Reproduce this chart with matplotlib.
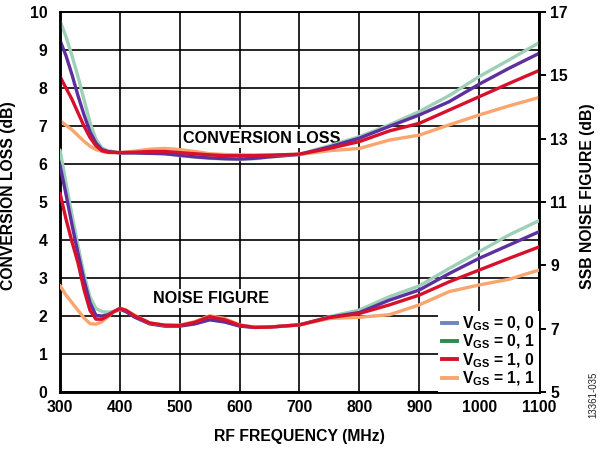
import matplotlib
matplotlib.use("Agg")
import matplotlib.pyplot as plt
from matplotlib.lines import Line2D

plt.rcParams['font.family'] = ['Liberation Sans', 'DejaVu Sans']
plt.rcParams['font.weight'] = 'bold'
plt.rcParams['mathtext.fontset'] = 'custom'
plt.rcParams['mathtext.rm'] = 'Liberation Sans:bold'
plt.rcParams['mathtext.bf'] = 'Liberation Sans:bold'

# ---- data ----
freq_cl = [300, 310, 320, 330, 340, 350, 360, 370, 380, 400, 425, 450, 475, 500,
           525, 550, 575, 600, 625, 650, 700, 750, 800, 850, 900, 950, 1000, 1050, 1100]
cl_00 = [9.25, 8.85, 8.35, 7.80, 7.30, 6.85, 6.55, 6.38, 6.33, 6.29, 6.29, 6.28, 6.27, 6.23,
         6.19, 6.16, 6.14, 6.13, 6.15, 6.19, 6.25, 6.45, 6.68, 6.99, 7.29, 7.64, 8.10, 8.52, 8.91]
cl_01 = [9.77, 9.35, 8.85, 8.30, 7.70, 7.10, 6.65, 6.42, 6.35, 6.30, 6.30, 6.29, 6.27, 6.22,
         6.18, 6.15, 6.13, 6.12, 6.14, 6.18, 6.26, 6.48, 6.72, 7.03, 7.38, 7.80, 8.30, 8.74, 9.19]
cl_10 = [8.30, 8.00, 7.70, 7.35, 7.00, 6.70, 6.48, 6.35, 6.31, 6.30, 6.31, 6.33, 6.33, 6.30,
         6.27, 6.24, 6.22, 6.22, 6.22, 6.23, 6.26, 6.41, 6.59, 6.87, 7.07, 7.42, 7.77, 8.12, 8.46]
cl_11 = [7.14, 7.02, 6.90, 6.75, 6.60, 6.47, 6.38, 6.33, 6.30, 6.30, 6.34, 6.39, 6.41, 6.38,
         6.33, 6.27, 6.25, 6.24, 6.24, 6.24, 6.25, 6.35, 6.41, 6.63, 6.76, 7.03, 7.29, 7.53, 7.75]

freq_nf = [300, 310, 320, 330, 340, 350, 360, 370, 380, 390, 400, 410, 425, 450, 475, 500,
           525, 550, 575, 600, 625, 650, 700, 750, 800, 850, 900, 950, 1000, 1050, 1100]
nf_00 = [12.16, 11.24, 10.28, 9.38, 8.54, 7.82, 7.42, 7.40, 7.44, 7.54, 7.62, 7.54, 7.36, 7.15,
         7.08, 7.08, 7.15, 7.28, 7.21, 7.08, 7.04, 7.05, 7.12, 7.36, 7.51, 7.90, 8.22, 8.74, 9.22, 9.64, 10.06]
nf_01 = [12.64, 11.60, 10.58, 9.62, 8.72, 8.00, 7.64, 7.54, 7.52, 7.54, 7.60, 7.54, 7.38, 7.16,
         7.09, 7.09, 7.16, 7.28, 7.22, 7.09, 7.04, 7.05, 7.12, 7.38, 7.59, 8.01, 8.35, 8.90, 9.43, 9.96, 10.41]
nf_10 = [11.28, 10.46, 9.74, 9.08, 8.24, 7.58, 7.30, 7.30, 7.40, 7.54, 7.64, 7.58, 7.40, 7.18,
         7.11, 7.10, 7.20, 7.38, 7.28, 7.11, 7.04, 7.05, 7.12, 7.35, 7.48, 7.75, 8.06, 8.48, 8.85, 9.22, 9.58]
nf_11 = [8.36, 8.06, 7.82, 7.58, 7.34, 7.16, 7.14, 7.22, 7.38, 7.54, 7.64, 7.59, 7.42, 7.18,
         7.11, 7.11, 7.22, 7.41, 7.32, 7.12, 7.05, 7.05, 7.12, 7.32, 7.36, 7.44, 7.75, 8.17, 8.38, 8.56, 8.85]

labels = [r'V$_{\mathrm{GS}}$ = 0, 0', r'V$_{\mathrm{GS}}$ = 0, 1',
          r'V$_{\mathrm{GS}}$ = 1, 0', r'V$_{\mathrm{GS}}$ = 1, 1']
line_colors = ['#5E2F9E', '#9DD0B6', '#D7102B', '#F8A56E']
legend_colors = ['#6B86C3', '#2E8B4E', '#D7102B', '#F8A56E']

x_ticks = [300, 400, 500, 600, 700, 800, 900, 1000, 1100]
left_ticks = list(range(0, 11))
right_ticks = [5, 7, 9, 11, 13, 15, 17]

# ---- figure ----
fig = plt.figure(figsize=(6.02, 4.5), dpi=100)
ax = fig.add_axes([0.0997, 0.1289, 0.7956, 0.8444])
ax2 = ax.twinx()

ax.set_xlim(300, 1100)
ax.set_ylim(0, 10)
ax2.set_ylim(5, 17)
ax.set_xticks(x_ticks)
ax.set_yticks(left_ticks)
ax2.set_yticks(right_ticks)
ax.grid(True, color='black', linewidth=1.2)
ax.set_axisbelow(True)

order = [1, 0, 3, 2]  # draw green, purple, orange, red
cls = [cl_00, cl_01, cl_10, cl_11]
nfs = [nf_00, nf_01, nf_10, nf_11]
for i in order:
    ax.plot(freq_cl, cls[i], color=line_colors[i], lw=2.4, solid_joinstyle='round',
            solid_capstyle='round', zorder=3)
    ax2.plot(freq_nf, nfs[i], color=line_colors[i], lw=2.4, solid_joinstyle='round',
             solid_capstyle='round', zorder=3)

for a in (ax, ax2):
    for s in ('left', 'bottom', 'right'):
        a.spines[s].set_linewidth(1.8)
        a.spines[s].set_color('black')
    a.spines['top'].set_linewidth(1.2)

ax.tick_params(axis='x', length=0, pad=6, labelsize=11.3)
ax.tick_params(axis='y', length=0, pad=9, labelsize=11.3)
ax2.tick_params(axis='y', length=5, width=1.4, pad=3, labelsize=11.3, direction='out')

ax.set_xlabel('RF FREQUENCY (MHz)', fontsize=11.3, fontweight='bold')
ax.xaxis.set_label_coords(0.5, -0.098)
ax.set_ylabel('CONVERSION LOSS (dB)', fontsize=11.3, fontweight='bold')
ax.yaxis.set_label_coords(-0.092, 0.518)
ax2.set_ylabel('SSB NOISE FIGURE (dB)', fontsize=11.3, fontweight='bold')
ax2.yaxis.set_label_coords(1.086, 0.514)

bbox = dict(facecolor='white', edgecolor='none', pad=1.5)
ax.text(637, 6.68, 'CONVERSION LOSS', ha='center', va='center',
        fontsize=11.6, fontweight='bold', bbox=bbox, zorder=2.5)
ax.text(552, 2.47, 'NOISE FIGURE', ha='center', va='center',
        fontsize=11.6, fontweight='bold', bbox=bbox, zorder=2.5)

handles = [Line2D([0], [0], color=c, lw=2.8) for c in legend_colors]
leg = ax2.legend(handles, labels, loc='lower right', fontsize=11.3, frameon=True,
                 fancybox=False, framealpha=1, edgecolor='none', borderaxespad=0,
                 handlelength=0.95, handletextpad=0.35, labelspacing=0.0,
                 borderpad=0.25)
leg.set_zorder(6)
for t in leg.get_texts():
    t.set_fontweight('bold')

fig.text(0.985, 0.07, '13361-035', rotation=90, ha='center', va='bottom',
         fontsize=7, fontweight='normal', color='#222222')

fig.savefig('out.png', dpi=100)
